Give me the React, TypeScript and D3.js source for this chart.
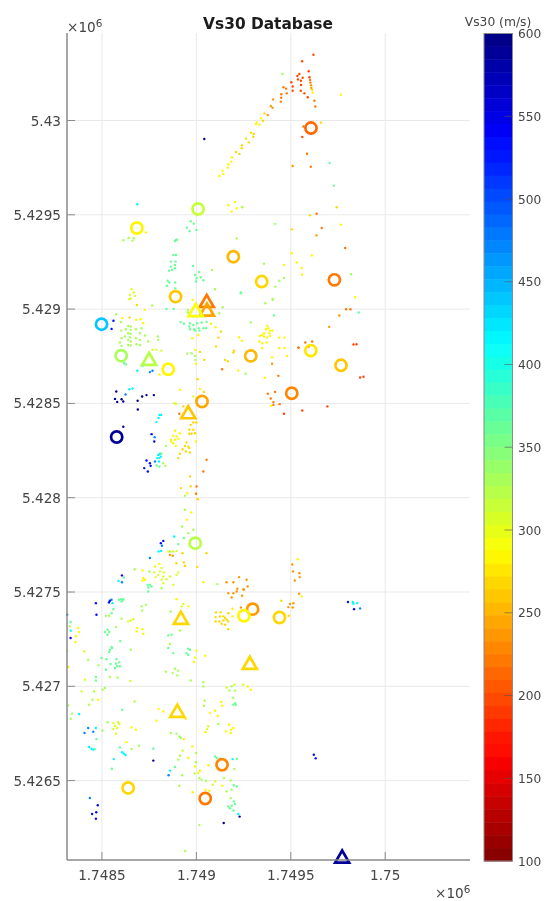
import React from "react";
import * as d3 from "d3";

// All positions in metres, relative to these false origins.
const EAST_BASE = 1748000;
const NORTH_BASE = 5426000;

const xDomain = [1748315, 1750449];
const yDomain = [5426079, 5430464];
const xTicks = [1748500, 1749000, 1749500, 1750000];
const yTicks = [5426500, 5427000, 5427500, 5428000, 5428500, 5429000, 5429500, 5430000];
const cbTicks = [100, 150, 200, 250, 300, 350, 400, 450, 500, 550, 600];

const redOrange200: number[][] = [
  [1503,4203],[1510,4180],[1510,4158],[1535,4236],[1545,4247],[1538,4218],[1554,4211],[1563,4227],[1554,4188],[1553,4158],[1572,4144],[1590,4123],[1560,4314],[1620,4349],[1595,4261],[1599,4229],[1561,3913],[1867,2637],[1885,2641],[1832,2812],[1848,2814],[1464,2445],[1561,2462],[1694,2484],
];
const darkOrange222: number[][] = [
  [1447,4100],[1449,4121],[1450,4139],[1461,4176],[1475,4169],[1479,4144],[1602,4215],[1604,4201],[1625,4105],[1630,4074],[1567,3968],[1586,3824],[1606,3755],[1637,3506],[1664,3430],[1788,3324],[1542,2796],[1378,2551],[1417,2561],[1394,2526],[1408,2507],[1408,2492],[1441,2496],[1793,2999],[1816,2999],[1577,2823],[1613,2828],[1540,2796],[1595,2802],[1434,2646],[1136,2681],[1054,2201],[1037,2139],[1001,2060],[998,2021],[910,2445],
];
const orange240: number[][] = [
  [1394,4077],[1403,4068],[1406,4112],[1378,4029],[1607,4187],[1609,4173],[1510,3759],[1636,3391],[1703,2906],[1757,2966],[1508,1646],[1512,1609],[1546,1600],[1547,1579],[1521,1561],[1160,1552],[1196,1552],[1226,1579],[1266,1565],[1272,1529],[1249,1515],[1217,1517],[1169,1494],[1187,1471],[1196,1494],[1214,1503],[1242,1480],[1252,1512],[1236,1418],[1514,1441],[1496,1436],[1487,1420],[1510,1418],[1544,1491],[860,1697],[875,1692],[1401,2710],
];
const gold265: number[][] = [
  [1210,3833],[1228,3823],[1240,3853],[1242,3869],[1263,3904],[1277,3884],[1289,3936],[1302,3914],[1304,3929],[1353,3999],[1360,4038],[1613,4163],[1660,3989],[1743,3540],[1602,3497],[1507,3423],[685,3022],[646,2955],[1019,2773],[1042,2731],[1081,2975],[1130,2881],[1116,2849],[1104,2802],[1199,2779],[1196,2770],[1152,2731],[1166,2724],[1007,2628],[1040,2561],[984,2399],[1000,2399],[970,2386],[963,2360],[984,2360],[963,2339],[975,2339],[993,2342],[948,2293],[957,2271],[940,2275],[927,2257],[945,2245],[963,2263],[966,2240],[913,2233],[904,2210],[966,2113],[970,2060],[918,2051],[1008,1992],[927,1706],[1054,1706],[894,1653],[934,1657],[940,1639],[1005,1632],[1104,1392],[1129,1392],[1125,1371],[1102,1367],[1143,1371],[1152,1362],[1169,1388],[1102,1344],[1122,1344],[1143,1349],[1161,1353],[1134,1332],[1152,1326],[1169,1344],[1169,1303],[1450,1454],[1489,1374],[931,2484],
];
const yellow287: number[][] = [
  [1122,3706],[1139,3734],[1143,3717],[1166,3750],[1169,3768],[1185,3782],[1189,3805],[1316,3982],[1320,3990],[1334,3978],[1342,4012],[1616,4148],[1765,4137],[1505,3296],[1611,3284],[1464,3234],[1531,3247],[1558,3218],[1560,3183],[1841,3063],[1765,3448],[733,3407],[1169,3551],[1205,3568],[1244,3542],[1214,3535],[1187,3517],[726,2996],[607,2952],[682,2943],[705,2946],[719,2925],[805,2653],[994,2784],[998,2710],[980,3049],[1077,2922],[1102,2904],[1010,2863],[978,2846],[1226,2851],[1242,2832],[1222,2674],[1337,2858],[1348,2863],[1358,2872],[1376,2911],[1369,2893],[1381,2899],[1390,2886],[1403,2886],[1358,2855],[1387,2872],[1376,2849],[1390,2858],[1350,2819],[1334,2828],[1373,2823],[1348,2793],[1438,2849],[1468,2849],[1438,2793],[1468,2793],[1401,2745],[1479,2752],[1362,2636],[1395,2487],[1537,1674],[913,2572],[867,2298],[887,2355],[913,2342],[878,2328],[895,2325],[865,2307],[887,2307],[904,2312],[878,2289],[892,2275],[998,2298],[1019,2577],[952,2024],[973,1922],[950,1883],[851,1715],[804,1649],[781,1635],[719,1574],[715,1561],[728,1565],[715,1614],[1037,1552],[895,1462],[957,1424],[374,1309],[379,1288],[362,1265],[360,1235],[687,1309],[715,1303],[683,1291],[719,1279],[1000,1189],[994,1153],[987,1129],[1047,1162],[1191,1411],[1191,1371],[1272,999],[1288,982],[1132,917],[1137,897],[1099,870],[1072,858],[1113,844],[480,929],[800,879],[825,867],[789,818],[943,828],[657,782],[680,770],[630,704],[1049,756],[1173,796],[1196,779],[1184,770],[1157,761],[1182,752],[978,681],[957,620],[993,575],[980,438],[1019,552],[1010,540],[1063,581],[1137,473],[1049,452],[1069,446],[321,1102],[1558,1477],[934,720],
];
const yellowLime307: number[][] = [
  [657,3105],[669,3088],[648,3075],[675,3070],[652,3057],[645,3052],[768,2784],[789,2784],[814,2780],[883,2501],[892,2498],[878,1715],[895,1718],[816,1627],[807,1609],[828,1604],[777,1604],[798,1591],[825,1582],[860,1582],[842,1568],[784,1579],[816,1565],[895,1591],[904,1604],[825,1547],[878,1538],[406,1185],[922,1424],[931,1436],[666,1356],[639,1344],[652,1349],[650,1028],[1249,1008],[1160,994],[392,973],[560,805],[586,809],[592,800],[569,791],[581,779],[560,773],[574,749],[1063,788],[1056,773],[927,658],[1099,496],[1086,478],[410,1035],[1202,1008],[984,2537],[1001,2528],
];
const lime328: number[][] = [
  [1456,4247],[1242,3540],[1417,3452],[1358,3241],[1464,3165],[1439,3151],[1418,3119],[1819,3185],[1404,3054],[613,3365],[641,3377],[662,3363],[669,3376],[1083,3208],[1099,3105],[1214,3375],[766,3019],[576,2973],[600,2932],[639,2911],[652,2908],[627,2893],[652,2890],[602,2886],[710,2899],[680,2893],[639,2872],[652,2869],[701,2872],[728,2860],[622,2855],[604,2846],[648,2851],[639,2837],[680,2846],[701,2837],[595,2823],[652,2828],[639,2810],[652,2807],[683,2814],[701,2810],[745,2828],[796,2855],[798,2837],[604,2805],[952,2763],[975,2766],[993,2752],[994,2731],[955,2996],[955,2982],[984,2961],[1122,2978],[1139,3010],[1288,2929],[1365,3031],[1404,3049],[1261,2657],[839,2275],[816,2233],[825,2183],[835,2169],[940,2010],[940,1936],[924,1847],[984,1830],[957,1812],[860,1715],[1111,1542],[751,1609],[673,1621],[816,1520],[733,1432],[710,1424],[713,1402],[864,1397],[539,1374],[521,1374],[604,1358],[330,1318],[574,1314],[653,1194],[427,1141],[316,1189],[482,1111],[542,1049],[583,1047],[913,1296],[860,1224],[839,1077],[887,1093],[874,1070],[904,1083],[899,1058],[970,1031],[1037,1022],[1037,999],[1187,1000],[1175,978],[1205,977],[1196,938],[1044,924],[1040,897],[1116,800],[459,973],[503,982],[516,991],[450,929],[432,902],[321,899],[342,855],[335,828],[673,920],[530,810],[503,766],[865,752],[895,749],[910,734],[917,726],[657,667],[696,685],[913,632],[904,611],[998,646],[998,597],[925,528],[910,473],[991,537],[1201,561],[1016,514],[1028,505],[1051,499],[1146,514],[1182,501],[1160,443],[1187,452],[1182,407],[1016,264],[941,127],[1043,2961],
];
const green358: number[][] = [
  [1705,3775],[1728,3655],[1235,3084],[970,3466],[986,3453],[950,3432],[964,3413],[1000,3420],[892,3367],[887,3361],[897,3368],[878,3287],[892,3287],[865,3252],[890,3252],[887,3234],[865,3225],[887,3217],[855,3204],[872,3208],[848,3151],[857,3141],[844,3123],[888,3141],[888,3110],[982,3229],[994,3181],[1014,3197],[1001,3164],[1023,3169],[998,3146],[1037,3153],[1236,3088],[842,3001],[880,3001],[618,2713],[627,2706],[917,2931],[934,2922],[966,2925],[963,2908],[984,2916],[1005,2925],[1028,2929],[1054,2932],[989,2893],[1012,2899],[1037,2899],[1051,2899],[966,2893],[1016,2886],[993,2886],[1411,2966],[1860,2982],[804,2165],[789,2171],[934,1786],[904,1754],[742,1538],[754,1538],[763,1529],[745,1524],[616,1577],[600,1462],[610,1457],[604,1450],[613,1462],[591,1459],[745,1503],[560,1409],[551,1388],[334,1341],[530,1300],[516,1288],[539,1288],[530,1273],[597,1240],[551,1208],[542,1194],[554,1203],[539,1182],[498,1150],[524,1144],[546,1118],[577,1144],[574,1120],[591,1127],[581,1106],[569,1097],[595,1106],[521,1088],[468,1049],[468,1031],[869,1273],[851,1270],[851,1203],[878,1176],[957,1199],[966,1194],[948,1176],[957,1167],[1205,911],[1196,902],[1208,902],[607,876],[471,720],[463,667],[595,676],[772,669],[553,563],[887,572],[1099,628],[1108,620],[1125,616],[1214,616],[1199,475],[1214,469],[1199,390],[1205,376],[1169,363],[1187,367],[1178,353],[1196,342],
];
const cyan420: number[][] = [
  [687,3556],[715,2699],[687,2673],[645,2575],[662,2579],[805,2439],[814,2439],[800,2423],[789,2401],[798,2227],[807,2233],[793,2210],[804,2210],[812,2218],[802,2192],[883,1794],[800,1715],[814,1718],[588,1559],[556,1441],[335,1295],[379,853],[468,779],[432,678],[445,669],[454,664],[607,650],[616,643],[625,636],[563,614],[860,553],[1192,614],[1222,323],[1828,1447],[1832,1438],[1851,1441],
];
const azure470: number[][] = [
  [754,2666],[768,2673],[779,2321],[781,2192],[818,1745],[754,1680],[606,1552],[551,1459],[316,1379],[427,779],[408,752],[454,759],[853,528],[436,408],[1867,1413],[625,2547],
];
const blue530: number[][] = [
  [561,2938],[551,2895],[763,2337],[777,2298],[736,2197],[754,2183],[758,2169],[724,2157],[743,2139],[825,1771],[812,1759],[606,1588],[542,1454],[537,1445],[468,1441],[471,1379],[334,1256],[478,369],[448,323],[470,332],[468,298],[1803,1447],[1835,1409],[1622,637],[1632,618],
];
const navy590: number[][] = [
  [1042,3902],[576,2563],[569,2524],[581,2508],[604,2522],[613,2510],[689,2514],[713,2537],[736,2544],[775,2544],[690,2468],[613,2376],[772,606],[1229,309],[1145,275],
];

const dotGroups: [number, number[][]][] = [
  [200, redOrange200],
  [222, darkOrange222],
  [240, orange240],
  [265, gold265],
  [287, yellow287],
  [307, yellowLime307],
  [328, lime328],
  [358, green358],
  [420, cyan420],
  [470, azure470],
  [530, blue530],
  [590, navy590],
];

const circleSites: number[][] = [
  [1607,3960,215],[1009,3531,315],[685,3430,282],[1196,3278,250],[1346,3146,265],[1731,3155,222],[890,3066,262],[498,2920,440],[602,2753,330],[851,2681,282],[1288,2752,250],[1606,2780,272],[1766,2702,258],[1505,2554,228],[1030,2510,242],[578,2322,590],[994,1759,320],[1298,1409,237],[1252,1374,280],[1440,1365,268],[1136,584,232],[1047,405,222],[639,461,268],
];
const triangleSites: number[][] = [
  [1055,3038,222],[1056,2992,248],[996,2990,295],[750,2731,320],[957,2448,258],[918,1358,270],[1283,1119,268],[899,865,266],[1772,92,590],
];

const W = 544;
const H = 901;
const plot = { left: 67, right: 470, top: 33, bottom: 860 };
const bar = { left: 484, right: 512.5, top: 33.5, bottom: 861 };
const FONT = "'DejaVu Sans', sans-serif";
const LEVELS = 64;

const jet = d3
  .scaleLinear<string>()
  .domain([0, 0.125, 0.375, 0.625, 0.875, 1])
  .range(["#000080", "#0000ff", "#00ffff", "#ffff00", "#ff0000", "#800000"])
  .clamp(true);

// MATLAB flipud(jet(64)): 100 is dark red, 600 is dark blue.
const color = (vs: number) => {
  const level = Math.min(LEVELS - 1, Math.floor(((600 - vs) / 500) * LEVELS));
  return jet((level + 0.5) / LEVELS);
};

const x = d3.scaleLinear().domain(xDomain).range([plot.left, plot.right]);
const y = d3.scaleLinear().domain(yDomain).range([plot.bottom, plot.top]);
const cb = d3.scaleLinear().domain([100, 600]).range([bar.bottom, bar.top]);
const triangle = d3.symbol().type(d3.symbolTriangle).size(85)();

const GRID = "#e9e9e9";
const AXIS = "#8a8a8a";
const TEXT = "#444444";

export default function App() {
  const levels = d3.range(LEVELS);
  return (
    <svg
      width={W}
      height={H}
      viewBox={`0 0 ${W} ${H}`}
      style={{ position: "fixed", left: 0, top: 0, background: "#fff" }}
      fontFamily={FONT}
    >
      <defs>
        <filter id="soft" x="0" y="0" width="100%" height="100%">
          <feGaussianBlur stdDeviation="0.45" />
        </filter>
      </defs>
      <rect width={W} height={H} fill="#fff" />
      <g filter="url(#soft)">
        {xTicks.map((t) => (
          <line key={t} x1={x(t)} x2={x(t)} y1={plot.top} y2={plot.bottom} stroke={GRID} strokeWidth={1} />
        ))}
        {yTicks.map((t) => (
          <line key={t} x1={plot.left} x2={plot.right} y1={y(t)} y2={y(t)} stroke={GRID} strokeWidth={1} />
        ))}

        {dotGroups.map(([vs, pts]) =>
          pts.map(([e, n], i) => (
            <circle key={`${vs}-${i}`} cx={x(EAST_BASE + e)} cy={y(NORTH_BASE + n)} r={1.2} fill={color(vs)} />
          ))
        )}

        {circleSites.map(([e, n, vs], i) => (
          <circle key={i} cx={x(EAST_BASE + e)} cy={y(NORTH_BASE + n)} r={5.6} fill="none" stroke={color(vs)} strokeWidth={2.7} />
        ))}
        {triangleSites.map(([e, n, vs], i) => (
          <path
            key={i}
            d={triangle ?? ""}
            transform={`translate(${x(EAST_BASE + e)},${y(NORTH_BASE + n) + 1})`}
            fill="none"
            stroke={color(vs)}
            strokeWidth={2.7}
          />
        ))}

        <line x1={plot.left} x2={plot.left} y1={plot.top} y2={plot.bottom} stroke={AXIS} strokeWidth={1.5} />
        <line x1={plot.left} x2={plot.right} y1={plot.bottom} y2={plot.bottom} stroke={AXIS} strokeWidth={1.5} />
        {xTicks.map((t) => (
          <g key={t}>
            <line x1={x(t)} x2={x(t)} y1={plot.bottom} y2={plot.bottom - 8} stroke={AXIS} strokeWidth={1} />
            <text x={x(t)} y={880} textAnchor="middle" fontSize={13.6} fill={TEXT}>
              {String(t / 1e6)}
            </text>
          </g>
        ))}
        {yTicks.map((t) => (
          <g key={t}>
            <line x1={plot.left} x2={plot.left + 8} y1={y(t)} y2={y(t)} stroke={AXIS} strokeWidth={1} />
            <text x={61} y={y(t) + 5} textAnchor="end" fontSize={13.6} fill={TEXT}>
              {String(t / 1e6)}
            </text>
          </g>
        ))}

        <text x={67} y={31.5} fontSize={13.6} fill={TEXT}>
          <tspan>×10</tspan>
          <tspan dy={-5} fontSize={10.5}>6</tspan>
        </text>
        <text x={435} y={897.5} fontSize={13.6} fill={TEXT}>
          <tspan>×10</tspan>
          <tspan dy={-5} fontSize={10.5}>6</tspan>
        </text>

        <text x={268} y={29} textAnchor="middle" fontSize={15.4} fontWeight="bold" fill="#1a1a1a">
          Vs30 Database
        </text>

        {levels.map((l) => {
          const hiVs = 600 - (l * 500) / LEVELS;
          const loVs = 600 - ((l + 1) * 500) / LEVELS;
          return (
            <rect
              key={l}
              x={bar.left}
              width={bar.right - bar.left}
              y={cb(hiVs)}
              height={cb(loVs) - cb(hiVs) + 0.5}
              fill={jet((l + 0.5) / LEVELS)}
            />
          );
        })}
        <rect x={bar.left} y={bar.top} width={bar.right - bar.left} height={bar.bottom - bar.top} fill="none" stroke={AXIS} strokeWidth={1} />
        {cbTicks.map((t) => (
          <g key={t}>
            {t !== 100 && t !== 600 && (
              <line x1={bar.right - 8} x2={bar.right} y1={cb(t)} y2={cb(t)} stroke="#555" strokeOpacity={0.6} strokeWidth={1} />
            )}
            <text x={518} y={cb(t) + 4.5} fontSize={12.2} fill={TEXT}>
              {t}
            </text>
          </g>
        ))}
        <text x={498} y={26} textAnchor="middle" fontSize={12.3} fill={TEXT}>
          Vs30 (m/s)
        </text>
      </g>
    </svg>
  );
}
